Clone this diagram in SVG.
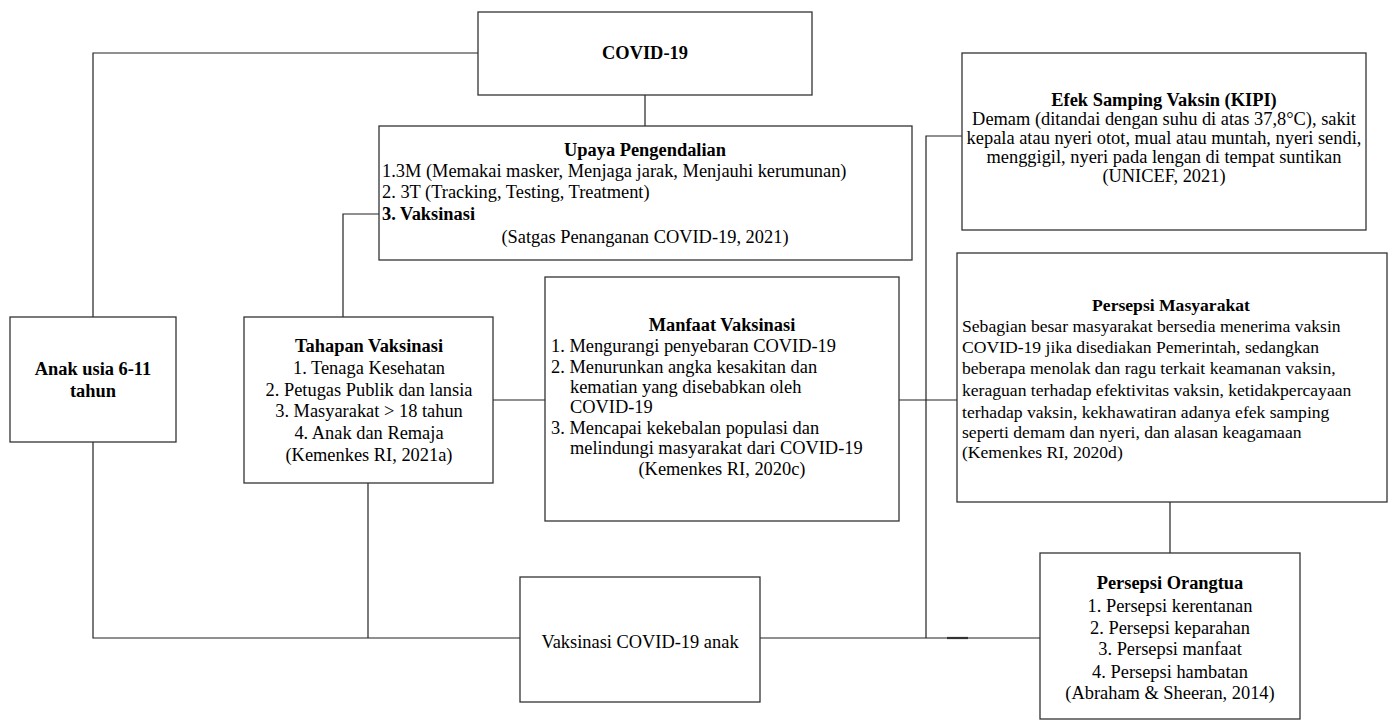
<svg xmlns="http://www.w3.org/2000/svg" width="1389" height="720" viewBox="0 0 1389 720">
<style>
.box{fill:#fff;stroke:#333;stroke-width:1.3}
.ln{fill:none;stroke:#222;stroke-width:1.2}
text{font-family:"Liberation Serif","Times New Roman",serif;font-size:18.4px;fill:#000}
.b{font-weight:bold}
.c{text-anchor:middle}
.s{font-size:17.6px}
</style>
<rect width="1389" height="720" fill="#fff"/>
<g id="connectors">
<polyline class="ln" points="478,53 93,53 93,317"/>
<line class="ln" x1="645" y1="95" x2="645" y2="126"/>
<polyline class="ln" points="343,317 343,214 379,214"/>
<line class="ln" x1="493" y1="400" x2="545" y2="400"/>
<line class="ln" x1="899" y1="400" x2="957" y2="400"/>
<polyline class="ln" points="93,442 93,638 520,638"/>
<line class="ln" x1="368" y1="483" x2="368" y2="638"/>
<line class="ln" x1="760" y1="638" x2="1040" y2="638"/>
<polyline class="ln" points="962,136 926,136 926,638"/>
<line x1="947" y1="638" x2="968" y2="638" stroke="#333" stroke-width="2.2"/>
<line class="ln" x1="1170" y1="502" x2="1170" y2="553"/>
</g>
<g id="covid">
<rect class="box" x="478" y="12" width="334" height="83"/>
<text class="b c" x="645" y="59">COVID-19</text>
</g>
<g id="upaya">
<rect class="box" x="379" y="126" width="533" height="134"/>
<text class="b c" x="645" y="156">Upaya Pengendalian</text>
<text x="382" y="177">1.3M (Memakai masker, Menjaga jarak, Menjauhi kerumunan)</text>
<text x="382" y="198">2. 3T (Tracking, Testing, Treatment)</text>
<text class="b" x="382" y="220">3. Vaksinasi</text>
<text class="c" x="645" y="243">(Satgas Penanganan COVID-19, 2021)</text>
</g>
<g id="efek">
<rect class="box" x="962" y="53" width="404" height="177"/>
<text class="b c" x="1164" y="106">Efek Samping Vaksin (KIPI)</text>
<text class="c" x="1164" y="125">Demam (ditandai dengan suhu di atas 37,8°C), sakit</text>
<text class="c" x="1164" y="144">kepala atau nyeri otot, mual atau muntah, nyeri sendi,</text>
<text class="c" x="1164" y="163">menggigil, nyeri pada lengan di tempat suntikan</text>
<text class="c" x="1164" y="182">(UNICEF, 2021)</text>
</g>
<g id="anak">
<rect class="box" x="10" y="317" width="166" height="125"/>
<text class="b c" x="93" y="375">Anak usia 6-11</text>
<text class="b c" x="93" y="397">tahun</text>
</g>
<g id="tahapan">
<rect class="box" x="244" y="317" width="249" height="166"/>
<text class="b c" x="369" y="352">Tahapan Vaksinasi</text>
<text class="c" x="369" y="374">1. Tenaga Kesehatan</text>
<text class="c" x="369" y="396">2. Petugas Publik dan lansia</text>
<text class="c" x="369" y="417">3. Masyarakat &gt; 18 tahun</text>
<text class="c" x="369" y="439">4. Anak dan Remaja</text>
<text class="c" x="369" y="461">(Kemenkes RI, 2021a)</text>
</g>
<g id="manfaat">
<rect class="box" x="545" y="277" width="354" height="244"/>
<text class="b c" x="722" y="331">Manfaat Vaksinasi</text>
<text x="551" y="352">1. Mengurangi penyebaran COVID-19</text>
<text x="551" y="373">2. Menurunkan angka kesakitan dan</text>
<text x="570" y="393">kematian yang disebabkan oleh</text>
<text x="570" y="413">COVID-19</text>
<text x="551" y="434">3. Mencapai kekebalan populasi dan</text>
<text x="570" y="454">melindungi masyarakat dari COVID-19</text>
<text class="c" x="722" y="475">(Kemenkes RI, 2020c)</text>
</g>
<g id="masyarakat">
<rect class="box" x="957" y="253" width="430" height="249"/>
<text class="b c s" x="1171" y="311">Persepsi Masyarakat</text>
<text class="s" x="962" y="332">Sebagian besar masyarakat bersedia menerima vaksin</text>
<text class="s" x="962" y="353">COVID-19 jika disediakan Pemerintah, sedangkan</text>
<text class="s" x="962" y="374">beberapa menolak dan ragu terkait keamanan vaksin,</text>
<text class="s" x="962" y="396">keraguan terhadap efektivitas vaksin, ketidakpercayaan</text>
<text class="s" x="962" y="418">terhadap vaksin, kekhawatiran adanya efek samping</text>
<text class="s" x="962" y="438">seperti demam dan nyeri, dan alasan keagamaan</text>
<text class="s" x="962" y="458">(Kemenkes RI, 2020d)</text>
</g>
<g id="vaksinasi-anak">
<rect class="box" x="520" y="577" width="240" height="125"/>
<text class="c" x="640" y="648">Vaksinasi COVID-19 anak</text>
</g>
<g id="orangtua">
<rect class="box" x="1040" y="553" width="260" height="166"/>
<text class="b c" x="1170" y="589">Persepsi Orangtua</text>
<text class="c" x="1170" y="612">1. Persepsi kerentanan</text>
<text class="c" x="1170" y="634">2. Persepsi keparahan</text>
<text class="c" x="1170" y="655">3. Persepsi manfaat</text>
<text class="c" x="1170" y="678">4. Persepsi hambatan</text>
<text class="c" x="1170" y="699">(Abraham &amp; Sheeran, 2014)</text>
</g>
</svg>
